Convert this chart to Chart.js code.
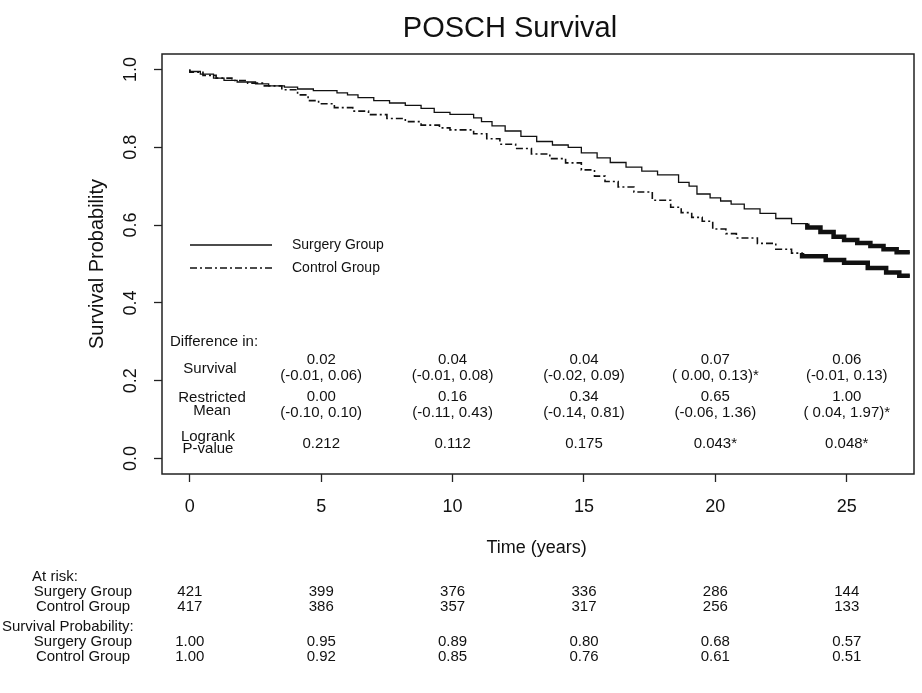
<!DOCTYPE html>
<html>
<head>
<meta charset="utf-8">
<title>POSCH Survival</title>
<script src="https://cdn.jsdelivr.net/npm/chart.js@4.4.0/dist/chart.umd.min.js"></script>
<style>
  html, body { margin: 0; padding: 0; background: #fff; }
  #wrap { width: 922px; height: 693px; }
</style>
</head>
<body>
<div id="wrap"><canvas id="survChart" width="922" height="693"></canvas></div>
<script>
// Kaplan-Meier step points (time in years, survival after the step)
const surgeryTimes = [0, 0.4, 0.9, 1.3, 1.8, 2.5, 3.0, 3.6, 4.1, 4.7, 5.6, 6.0, 6.4, 7.0, 7.6, 8.2, 8.8, 9.3, 9.9, 10.8,
  11.1, 11.5, 12.0, 12.6, 13.2, 13.8, 14.4, 14.9, 15.5, 16.0, 16.6, 17.2, 17.8, 18.6, 19.0, 19.3, 19.8, 20.2, 20.6, 21.1,
  21.7, 22.3, 22.9, 23.5, 24.0, 24.5, 24.9, 25.4, 25.9, 26.4, 26.9, 27.4];
const surgerySurv = [1.0, 0.995, 0.988, 0.978, 0.972, 0.968, 0.963, 0.958, 0.955, 0.95, 0.946, 0.94, 0.935, 0.928, 0.92, 0.914, 0.908, 0.90, 0.89, 0.885,
  0.876, 0.866, 0.855, 0.842, 0.828, 0.815, 0.806, 0.80, 0.786, 0.773, 0.761, 0.749, 0.739, 0.729, 0.71, 0.70, 0.68, 0.67, 0.662, 0.654,
  0.642, 0.63, 0.617, 0.604, 0.594, 0.582, 0.57, 0.562, 0.554, 0.546, 0.538, 0.53];

const controlTimes = [0, 0.5, 1.0, 1.6, 2.2, 2.8, 3.5, 4.1, 4.5, 4.9, 5.5, 6.2, 6.8, 7.5, 8.2, 8.8, 9.5, 9.9, 10.8, 11.3,
  11.8, 12.4, 13.0, 13.7, 14.3, 14.9, 15.4, 15.8, 16.3, 16.9, 17.6, 18.3, 18.7, 19.1, 19.5, 19.9, 20.4, 20.8, 21.6, 22.3,
  22.9, 23.3, 24.2, 24.9, 25.8, 26.5, 27.0, 27.4];
const controlSurv = [1.0, 0.993, 0.985, 0.978, 0.972, 0.965, 0.958, 0.948, 0.935, 0.92, 0.912, 0.902, 0.893, 0.884, 0.874, 0.866, 0.857, 0.85, 0.845, 0.835,
  0.822, 0.808, 0.797, 0.783, 0.771, 0.76, 0.742, 0.726, 0.712, 0.698, 0.685, 0.664, 0.646, 0.632, 0.62, 0.61, 0.59, 0.578, 0.567, 0.553,
  0.538, 0.528, 0.52, 0.51, 0.503, 0.49, 0.478, 0.47];

// heavy censoring at the end of follow-up
const surgeryCensorFrom = 23.5;
const controlCensorFrom = 23.3;

const xTicks = [0, 5, 10, 15, 20, 25];
const yTicks = [0, 0.2, 0.4, 0.6, 0.8, 1.0];

// difference table inside the plot (columns at 5..25 years)
const diffTimes = [5, 10, 15, 20, 25];
const diffSurvival = ['0.02', '0.04', '0.04', '0.07', '0.06'];
const diffSurvivalCI = ['(-0.01, 0.06)', '(-0.01, 0.08)', '(-0.02, 0.09)', '( 0.00, 0.13)*', '(-0.01, 0.13)'];
const diffMean = ['0.00', '0.16', '0.34', '0.65', '1.00'];
const diffMeanCI = ['(-0.10, 0.10)', '(-0.11, 0.43)', '(-0.14, 0.81)', '(-0.06, 1.36)', '( 0.04, 1.97)*'];
const logrankP = ['0.212', '0.112', '0.175', '0.043*', '0.048*'];

// numbers under the x axis
const atRiskSurgery = [421, 399, 376, 336, 286, 144];
const atRiskControl = [417, 386, 357, 317, 256, 133];
const probSurgery = ['1.00', '0.95', '0.89', '0.80', '0.68', '0.57'];
const probControl = ['1.00', '0.92', '0.85', '0.76', '0.61', '0.51'];

const INK = '#111';
const FONT = '"Liberation Sans", Arial, Helvetica, sans-serif';
const controlDash = [7, 3, 2, 3];

function toPoints(times, surv, from) {
  const pts = [];
  times.forEach((t, i) => {
    if (from === undefined || t >= from) pts.push({ x: t, y: surv[i] });
  });
  return pts;
}

const decorPlugin = {
  id: 'decor',
  afterDraw(chart) {
    const { ctx, chartArea: a, scales: { x, y } } = chart;
    ctx.save();

    // frame around the plot region
    ctx.strokeStyle = '#222';
    ctx.lineWidth = 1.5;
    ctx.strokeRect(a.left, a.top, a.right - a.left, a.bottom - a.top);

    ctx.fillStyle = INK;
    ctx.textAlign = 'center';
    ctx.textBaseline = 'middle';

    // main title
    ctx.font = '29px ' + FONT;
    ctx.fillText('POSCH Survival', 510, 29);

    // y tick labels, rotated like base R graphics
    ctx.font = '18px ' + FONT;
    yTicks.forEach(v => {
      ctx.save();
      ctx.translate(a.left - 31, y.getPixelForValue(v));
      ctx.rotate(-Math.PI / 2);
      ctx.fillText(v.toFixed(1), 0, 0);
      ctx.restore();
    });

    // axis titles
    ctx.save();
    ctx.font = '20px ' + FONT;
    ctx.translate(a.left - 65, (a.top + a.bottom) / 2);
    ctx.rotate(-Math.PI / 2);
    ctx.fillText('Survival Probability', 0, 0);
    ctx.restore();
    ctx.font = '18px ' + FONT;
    ctx.fillText('Time (years)', x.getPixelForValue(13.2), 548);

    // legend
    const lx0 = 190, lx1 = 272;
    ctx.strokeStyle = INK;
    ctx.lineWidth = 1.3;
    ctx.beginPath(); ctx.moveTo(lx0, 245); ctx.lineTo(lx1, 245); ctx.stroke();
    ctx.setLineDash(controlDash);
    ctx.beginPath(); ctx.moveTo(lx0, 268); ctx.lineTo(lx1, 268); ctx.stroke();
    ctx.setLineDash([]);
    ctx.textAlign = 'left';
    ctx.font = '14px ' + FONT;
    ctx.fillText('Surgery Group', 292, 245);
    ctx.fillText('Control Group', 292, 268);

    // difference table
    ctx.font = '15px ' + FONT;
    ctx.fillText('Difference in:', 170, 342);
    ctx.textAlign = 'center';
    ctx.fillText('Survival', 210, 369);
    ctx.fillText('Restricted', 212, 398);
    ctx.fillText('Mean', 212, 411);
    ctx.fillText('Logrank', 208, 437);
    ctx.fillText('P-value', 208, 449);
    diffTimes.forEach((t, i) => {
      const cx = x.getPixelForValue(t);
      ctx.fillText(diffSurvival[i], cx, 360);
      ctx.fillText(diffSurvivalCI[i], cx, 376);
      ctx.fillText(diffMean[i], cx, 397);
      ctx.fillText(diffMeanCI[i], cx, 413);
      ctx.fillText(logrankP[i], cx, 444);
    });

    // numbers at risk and survival probabilities
    ctx.font = '15px ' + FONT;
    ctx.fillText('At risk:', 55, 577);
    ctx.fillText('Surgery Group', 83, 592);
    ctx.fillText('Control Group', 83, 607);
    ctx.fillText('Surgery Group', 83, 642);
    ctx.fillText('Control Group', 83, 657);
    ctx.textAlign = 'left';
    ctx.fillText('Survival Probability:', 2, 627);
    ctx.textAlign = 'center';
    xTicks.forEach((t, i) => {
      const cx = x.getPixelForValue(t);
      ctx.fillText(String(atRiskSurgery[i]), cx, 592);
      ctx.fillText(String(atRiskControl[i]), cx, 607);
      ctx.fillText(probSurgery[i], cx, 642);
      ctx.fillText(probControl[i], cx, 657);
    });

    ctx.restore();
  }
};

const chart = new Chart(document.getElementById('survChart'), {
  type: 'line',
  data: {
    datasets: [
      {
        label: 'Surgery Group',
        data: toPoints(surgeryTimes, surgerySurv),
        borderColor: INK,
        borderWidth: 1.3,
        stepped: 'after',
        pointRadius: 0
      },
      {
        label: 'Control Group',
        data: toPoints(controlTimes, controlSurv),
        borderColor: INK,
        borderWidth: 1.6,
        borderDash: controlDash,
        stepped: 'after',
        pointRadius: 0
      },
      {
        label: 'Surgery censored',
        data: toPoints(surgeryTimes, surgerySurv, surgeryCensorFrom),
        borderColor: INK,
        borderWidth: 4.5,
        stepped: 'after',
        pointRadius: 0
      },
      {
        label: 'Control censored',
        data: toPoints(controlTimes, controlSurv, controlCensorFrom),
        borderColor: INK,
        borderWidth: 4.5,
        stepped: 'after',
        pointRadius: 0
      }
    ]
  },
  options: {
    responsive: false,
    animation: false,
    devicePixelRatio: 1,
    layout: { padding: { left: 0, right: 8, top: 54, bottom: 0 } },
    plugins: {
      legend: { display: false },
      tooltip: { enabled: false },
      title: { display: false }
    },
    scales: {
      x: {
        type: 'linear',
        min: -1.06,
        max: 27.56,
        afterBuildTicks: s => { s.ticks = xTicks.map(v => ({ value: v })); },
        afterFit: s => { s.height = 219; },
        border: { display: false },
        grid: { drawOnChartArea: false, drawTicks: true, tickLength: 8, tickColor: '#222', tickWidth: 1.3 },
        ticks: { color: INK, font: { family: FONT, size: 18 }, padding: 14, maxRotation: 0 }
      },
      y: {
        type: 'linear',
        min: -0.04,
        max: 1.04,
        afterBuildTicks: s => { s.ticks = yTicks.map(v => ({ value: v })); },
        afterFit: s => { s.width = 162; },
        border: { display: false },
        grid: { drawOnChartArea: false, drawTicks: true, tickLength: 8, tickColor: '#222', tickWidth: 1.3 },
        ticks: { display: false }
      }
    }
  },
  plugins: [decorPlugin]
});
</script>
</body>
</html>
